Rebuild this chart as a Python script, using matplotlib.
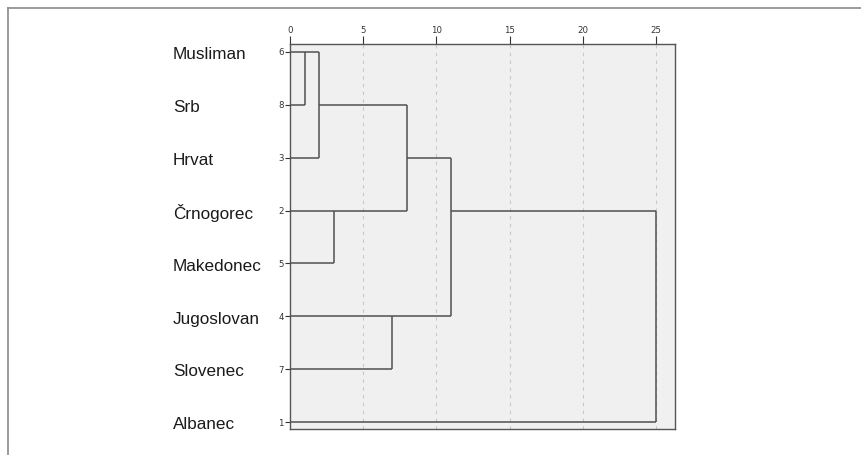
import matplotlib
matplotlib.use("Agg")
from matplotlib import pyplot as plt
from matplotlib.lines import Line2D

# --------------- datos del dendrograma

nombres = ["Musliman", "Srb", "Hrvat", "Črnogorec", "Makedonec", "Jugoslovan", "Slovenec", "Albanec"]
numeros = ["6", "8", "3", "2", "5", "4", "7", "1"]

# lineas verticales: distancia de union, fila de arriba, fila de abajo
union_dist = [1, 2, 3, 7, 8, 11, 25]
union_arriba = [0, 0, 3, 5, 1, 2, 3]
union_abajo = [1, 2, 4, 6, 3, 5, 7]

# lineas horizontales: fila, desde, hasta
horiz_fila = [0, 1, 1, 2, 2, 3, 3, 4, 5, 6, 7]
horiz_desde = [0, 0, 2, 0, 8, 0, 11, 0, 0, 0, 0]
horiz_hasta = [2, 1, 8, 2, 11, 8, 25, 3, 11, 7, 25]

ticks_x = [0, 5, 10, 15, 20, 25]

# --------------- figura

fig = plt.figure(figsize=(8.62, 4.55), dpi=100)
fig.patch.set_facecolor("white")

# marco gris del recorte (arriba y a la izquierda)
fig.add_artist(Line2D([8 / 862, 8 / 862], [0, 1 - 8 / 455], transform=fig.transFigure,
                      color="#8a8a8a", lw=1.2))
fig.add_artist(Line2D([8 / 862, 1], [1 - 8 / 455, 1 - 8 / 455], transform=fig.transFigure,
                      color="#8a8a8a", lw=1.2))

ax = fig.add_axes([290 / 862, 1 - 429 / 455, (675 - 290) / 862, (429 - 44) / 455])
ax.set_facecolor("#f0f0f1")

color_linea = "#505050"
for d, a, b in zip(union_dist, union_arriba, union_abajo):
    ax.plot([d, d], [a, b], color=color_linea, lw=1.1, solid_capstyle="butt", zorder=3)
for f, x0, x1 in zip(horiz_fila, horiz_desde, horiz_hasta):
    ax.plot([x0, x1], [f, f], color=color_linea, lw=1.1, solid_capstyle="butt", zorder=3)

# rejilla punteada
for t in ticks_x[1:]:
    ax.axvline(t, color="#c8c8c8", lw=0.8, ls=(0, (3, 4)), zorder=1)

ax.set_xlim(0, 26.3)
ax.set_ylim(7.13, -0.15)

ax.xaxis.tick_top()
ax.set_xticks(ticks_x)
ax.set_xticklabels([str(t) for t in ticks_x])
ax.tick_params(axis="x", direction="out", length=6, width=0.8, pad=0.5,
               labelsize=6.2, colors="#333333")

ax.set_yticks(range(len(numeros)))
ax.set_yticklabels(numeros)
ax.tick_params(axis="y", direction="out", length=3.5, width=0.8, pad=1,
               labelsize=6.2, colors="#333333")

for s in ax.spines.values():
    s.set_color("#555555")
    s.set_linewidth(1.0)

# nombres de las etnias a la izquierda (un poco mas abajo que la fila)
for i, n in enumerate(nombres):
    ax.annotate(n, xy=(173 / 862, i + 0.05), xycoords=("figure fraction", "data"),
                ha="left", va="center", fontsize=12.3, family="Liberation Sans",
                color="#1a1a1a")

fig.savefig("out.png", dpi=100)
